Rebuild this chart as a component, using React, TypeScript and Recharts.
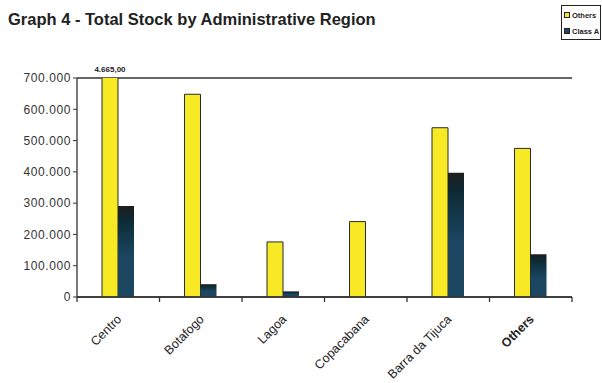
import { BarChart, Bar, XAxis, YAxis, CartesianGrid, LabelList } from 'recharts';

const regions = ['Centro', 'Botafogo', 'Lagoa', 'Copacabana', 'Barra da Tijuca', 'Others'];
const others = [4665000, 648000, 176000, 241000, 541000, 475000];
const classA = [291000, 41000, 18000, 0, 397000, 137000];
const yTicks = [0, 100000, 200000, 300000, 400000, 500000, 600000, 700000];

const data = regions.map((r, i) => ({ region: r, others: others[i], classA: classA[i] }));

const PLOT_TOP = 78;
const BAND = (572 - 77) / regions.length;
const FONT = 'Liberation Sans, Arial, sans-serif';

const fmt = (v: number) => (v === 0 ? '0' : v.toLocaleString('de-DE'));

function RegionTick(props: any) {
    const { x, y, payload, index } = props;
    const axisY = y - 8;
    const last = index === regions.length - 1;
    return (
        <g>
            <line x1={x - BAND / 2} x2={x - BAND / 2} y1={axisY} y2={axisY + 5} stroke="#333" strokeWidth={1.3} />
            {last && <line x1={x + BAND / 2} x2={x + BAND / 2} y1={axisY} y2={axisY + 5} stroke="#333" strokeWidth={1.3} />}
            <g transform={`translate(${x + 4},${axisY + 23})`}>
                <text
                    textAnchor="end"
                    transform="rotate(-45)"
                    fontSize={12.5}
                    fontFamily={FONT}
                    fontWeight={payload.value === 'Others' ? 'bold' : 'normal'}
                    fill="#222"
                >
                    {payload.value}
                </text>
            </g>
        </g>
    );
}

function TopLabel(props: any) {
    const { x, y, width, value } = props;
    if (value <= 700000) return null;
    const top = Math.max(y, PLOT_TOP);
    return (
        <text x={x + width / 2} y={top - 6} textAnchor="middle" fontSize={8} fontWeight="bold" fontFamily={FONT} fill="#222">
            4.665,00
        </text>
    );
}

function LegendBox() {
    const item = (fill: string, label: string) => (
        <div style={{ display: 'flex', alignItems: 'center', height: 16, whiteSpace: 'nowrap' }}>
            <span style={{ width: 4, height: 4, flexShrink: 0, background: fill, border: '1px solid #222', marginRight: 2, display: 'inline-block' }} />
            <span>{label}</span>
        </div>
    );
    return (
        <div style={{ position: 'absolute', left: 561, top: 5, width: 40, height: 35, border: '1px solid #222', padding: '1px 0 0 2px', boxSizing: 'border-box', fontSize: 7.5, fontWeight: 'bold', fontFamily: FONT, color: '#222', background: '#fff', overflow: 'hidden' }}>
            {item('#f7ea24', 'Others')}
            {item('#1c4560', 'Class A')}
        </div>
    );
}

export default function App() {
    return (
        <div style={{ position: 'absolute', left: 0, top: 0, width: 602, height: 383, background: '#fff' }}>
            <div style={{ position: 'absolute', left: 8, top: 10, fontSize: 16.5, fontWeight: 'bold', fontFamily: FONT, color: '#222' }}>
                Graph 4 - Total Stock by Administrative Region
            </div>
            <BarChart width={602} height={383} data={data} margin={{ top: PLOT_TOP, right: 30, left: 7, bottom: 6 }} barGap={0} barSize={16}>
                <defs>
                    <linearGradient id="navy" x1="0" y1="0" x2="0" y2="1">
                        <stop offset="0%" stopColor="#1e1e1e" />
                        <stop offset="15%" stopColor="#0d2a35" />
                        <stop offset="55%" stopColor="#1b4560" />
                        <stop offset="100%" stopColor="#1d4660" />
                    </linearGradient>
                </defs>
                <CartesianGrid vertical={false} stroke="#333" strokeWidth={1.3} />
                <XAxis
                    dataKey="region"
                    interval={0}
                    height={80}
                    tickLine={false}
                    axisLine={{ stroke: '#333', strokeWidth: 1.3 }}
                    tick={<RegionTick />}
                />
                <YAxis
                    yAxisId="left"
                    domain={[0, 700000]}
                    ticks={yTicks}
                    allowDataOverflow
                    width={70}
                    tickFormatter={fmt}
                    tickLine={{ stroke: '#333' }}
                    tickSize={4}
                    axisLine={{ stroke: '#333', strokeWidth: 1.3 }}
                    tick={{ fontSize: 12, fill: '#333', fontFamily: FONT, letterSpacing: 0.6 }}
                />
                <YAxis yAxisId="right" orientation="right" width={0} tick={false} tickLine={false} axisLine={{ stroke: '#333', strokeWidth: 1.3 }} />
                <Bar yAxisId="left" dataKey="others" name="Others" fill="#f7ea24" stroke="#2a2a2a" strokeWidth={1} isAnimationActive={false}>
                    <LabelList dataKey="others" content={<TopLabel />} />
                </Bar>
                <Bar yAxisId="left" dataKey="classA" name="Class A" fill="url(#navy)" isAnimationActive={false} />
            </BarChart>
            <LegendBox />
        </div>
    );
}
